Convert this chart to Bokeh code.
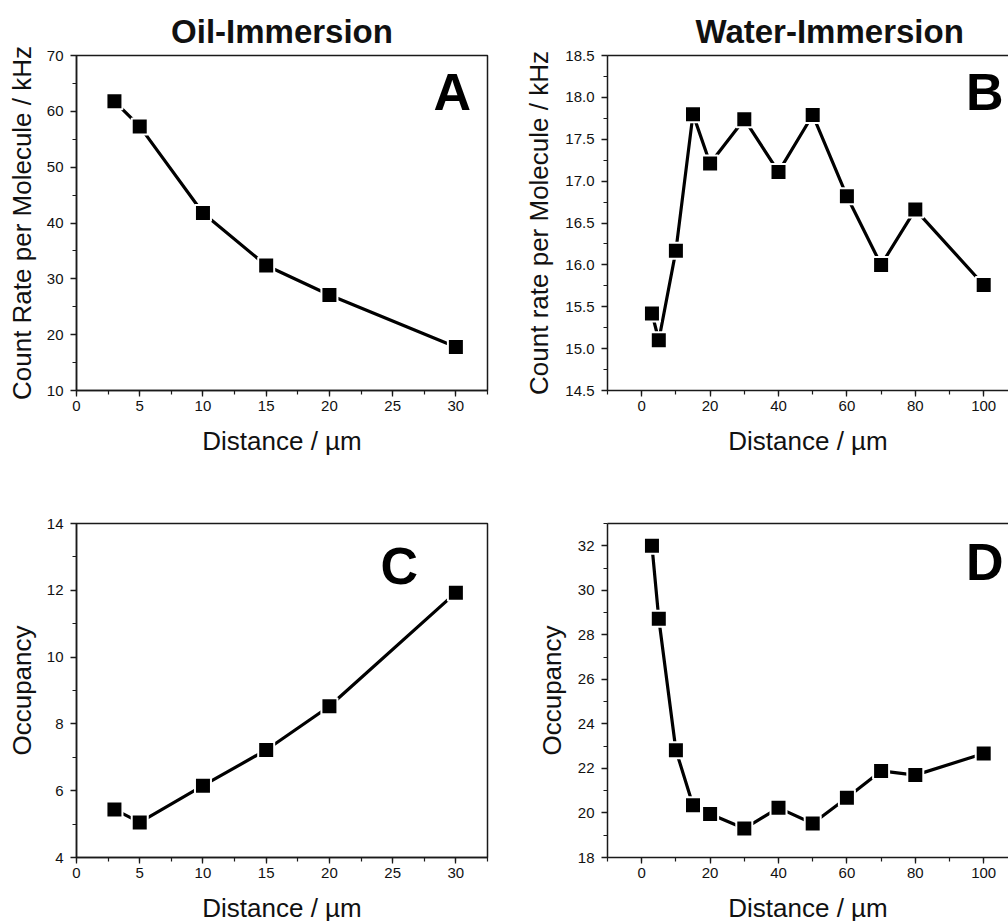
from bokeh.plotting import figure
from bokeh.layouts import column, row
from bokeh.models import (Range1d, SingleIntervalTicker, NumeralTickFormatter, LinearAxis,
                          Label, Title, FixedTicker)
from bokeh.embed import file_html
from bokeh.resources import INLINE

# ---- data ----
oil_x = [3, 5, 10, 15, 20, 30]
oil_count = [61.8, 57.3, 41.8, 32.4, 27.1, 17.8]
oil_occ = [5.44, 5.05, 6.15, 7.22, 8.53, 11.93]

water_x = [3, 5, 10, 15, 20, 30, 40, 50, 60, 70, 80, 100]
water_count = [15.42, 15.10, 16.17, 17.80, 17.21, 17.74, 17.11, 17.79, 16.82, 16.00, 16.66, 15.76]
water_occ = [32.0, 28.72, 22.82, 20.35, 19.95, 19.30, 20.23, 19.53, 20.68, 21.89, 21.70, 22.67]

titles = ["Oil-Immersion", "Water-Immersion"]
letters = ["A", "B", "C", "D"]
ylabels = ["Count Rate per Molecule / kHz", "Count rate per Molecule / kHz", "Occupancy", "Occupancy"]
xlabel = "Distance / \u00b5m"

FONT = "Liberation Sans"
AX = "#1a1a1a"


def style_axis(ax, interval, fmt=None, standoff=6, label_standoff=10):
    ax.ticker = SingleIntervalTicker(interval=interval, num_minor_ticks=2)
    if fmt:
        ax.formatter = NumeralTickFormatter(format=fmt)
    ax.axis_line_color = AX
    ax.axis_line_width = 1.5
    ax.major_tick_line_color = AX
    ax.major_tick_line_width = 1.3
    ax.minor_tick_line_color = AX
    ax.minor_tick_line_width = 1.2
    ax.major_tick_in = 0
    ax.major_tick_out = 6
    ax.minor_tick_in = 0
    ax.minor_tick_out = 4
    ax.major_label_text_font = FONT
    ax.major_label_text_font_size = "15px"
    ax.major_label_text_color = "#111111"
    ax.major_label_standoff = standoff
    ax.axis_label_text_font = FONT
    ax.axis_label_text_font_size = "26px"
    ax.axis_label_text_font_style = "normal"
    ax.axis_label_text_color = "#111111"
    ax.axis_label_standoff = label_standoff


def make_panel(xs, ys, xr, yr, xint, yint, yfmt, ylabel, letter, lpos,
               left, fw, right, top, fh, bottom, title=None, title_align="center",
               title_offset=0, full_box=True, ylab_standoff=10):
    p = figure(output_backend="svg", toolbar_location=None,
               frame_width=fw, frame_height=fh,
               min_border_left=left, min_border_right=right,
               min_border_top=top, min_border_bottom=bottom,
               x_range=Range1d(*xr), y_range=Range1d(*yr),
               background_fill_color="white", border_fill_color="white")
    p.grid.visible = False
    xax = p.below[0]
    yax = p.left[0]
    if full_box:
        p.outline_line_color = AX
        p.outline_line_width = 1.5
    else:
        p.outline_line_color = None
        top_ax = LinearAxis(ticker=FixedTicker(ticks=[]),
                            major_tick_line_color=None, minor_tick_line_color=None,
                            major_label_standoff=0, major_tick_out=0, minor_tick_out=0,
                            axis_line_color=AX, axis_line_width=1.5)
        p.add_layout(top_ax, "above")
    style_axis(xax, xint, standoff=4, label_standoff=12)
    style_axis(yax, yint, fmt=yfmt, standoff=7, label_standoff=ylab_standoff)
    xax.axis_label = xlabel
    yax.axis_label = ylabel
    if title:
        p.add_layout(Title(text=title, align=title_align, text_font=FONT,
                           text_font_size="33px", text_font_style="bold",
                           text_color="#111111", offset=title_offset, standoff=11),
                     "above")
    p.line(xs, ys, line_color="black", line_width=3.2)
    p.scatter(xs, ys, marker="square", size=16, fill_color="black",
              line_color="white", line_width=2)
    p.add_layout(Label(x=lpos[0], y=lpos[1], text=letter, text_align="right",
                       text_baseline="alphabetic", text_font=FONT,
                       text_font_size="52px", text_font_style="bold",
                       text_color="black"))
    return p


pA = make_panel(oil_x, oil_count, (0, 32.5), (10, 70), 5, 10, None, ylabels[0],
                letters[0], (31.2, 63.4),
                76, 411, 17, 55, 335, 70, title=titles[0], ylab_standoff=7)
pB = make_panel(water_x, water_count, (-10, 107.25), (14.5, 18.5), 20, 0.5, "0.0",
                ylabels[1], letters[1], (105.8, 18.07),
                103, 401, 0, 55, 335, 70, title=titles[1], title_align="left",
                title_offset=88, full_box=False, ylab_standoff=8)
pC = make_panel(oil_x, oil_occ, (0, 32.5), (4, 14), 5, 2, None, ylabels[2],
                letters[2], (27.0, 12.73),
                76, 411, 17, 63, 334, 64, ylab_standoff=7)
pD = make_panel(water_x, water_occ, (-10, 107.25), (18, 33), 20, 2, None, ylabels[3],
                letters[3], (105.8, 31.25),
                103, 401, 0, 63, 334, 64, full_box=False, ylab_standoff=8)

layout = column(row(pA, pB, spacing=0), row(pC, pD, spacing=0), spacing=0)

open("out.html", "w").write(file_html(layout, INLINE))
